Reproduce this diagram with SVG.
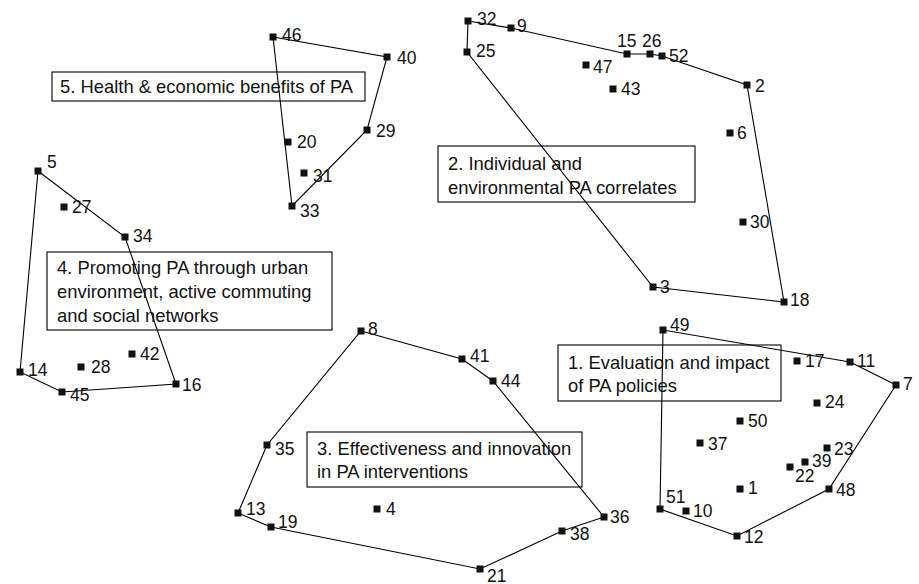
<svg xmlns="http://www.w3.org/2000/svg" width="919" height="584" viewBox="0 0 919 584">
<defs>
<style>
.hull{fill:none;stroke:#000;stroke-width:1.1}
.box{fill:none;stroke:#000;stroke-width:1.1}
.pt{fill:#111}
.lbl{font-family:"Liberation Sans",Arial,sans-serif;font-size:17.5px;fill:#111}
.btx{font-family:"Liberation Sans",Arial,sans-serif;font-size:18.4px;fill:#111}
</style>
<rect id="sq" x="-3.5" y="-3.5" width="7" height="7"/>
</defs>
<rect width="919" height="584" fill="#fff"/>
<g id="connectors">
<polygon class="hull" points="273,37 387,57 367,130 292,206"/>
<polygon class="hull" points="468,21 511,28 627,54 650,54 662,56 747,85 784,302 653,287 467,52"/>
<polygon class="hull" points="38,171 125,237 176,384 62,392 20,372"/>
<polygon class="hull" points="361,331 462,359 493,381 604,517 562,531 480,569 271,527 238,513 267,445"/>
<polygon class="hull" points="663,330 850,362 896,385 829,489 737,536 660,509"/>
</g>
<g id="cluster5">
<rect class="box" x="52" y="72" width="313" height="29"/>
<text class="btx" x="60" y="93">5. Health &amp; economic benefits of PA</text>
</g>
<g id="cluster2">
<rect class="box" x="438" y="146" width="257" height="56"/>
<text class="btx" x="448" y="170">2. Individual and</text>
<text class="btx" x="448" y="194">environmental PA correlates</text>
</g>
<g id="cluster4">
<rect class="box" x="47" y="252" width="285" height="78"/>
<text class="btx" x="57" y="274">4. Promoting PA through urban</text>
<text class="btx" x="57" y="298">environment, active commuting</text>
<text class="btx" x="57" y="322">and social networks</text>
</g>
<g id="cluster3">
<rect class="box" x="307" y="432" width="275" height="55"/>
<text class="btx" x="317" y="455">3. Effectiveness and innovation</text>
<text class="btx" x="317" y="478">in PA interventions</text>
</g>
<g id="cluster1">
<rect class="box" x="558" y="345" width="223" height="56"/>
<text class="btx" x="568" y="369">1. Evaluation and impact</text>
<text class="btx" x="568" y="392">of PA policies</text>
</g>
<g id="points">
<g id="p46"><use href="#sq" class="pt" x="273" y="37"/><text class="lbl" x="282" y="41">46</text></g>
<g id="p40"><use href="#sq" class="pt" x="387" y="57"/><text class="lbl" x="397" y="64">40</text></g>
<g id="p29"><use href="#sq" class="pt" x="367" y="130"/><text class="lbl" x="376" y="137">29</text></g>
<g id="p20"><use href="#sq" class="pt" x="288" y="142"/><text class="lbl" x="297" y="148">20</text></g>
<g id="p31"><use href="#sq" class="pt" x="304" y="173"/><text class="lbl" x="313" y="182">31</text></g>
<g id="p33"><use href="#sq" class="pt" x="292" y="206"/><text class="lbl" x="300" y="217">33</text></g>
<g id="p32"><use href="#sq" class="pt" x="468" y="21"/><text class="lbl" x="477" y="25">32</text></g>
<g id="p9"><use href="#sq" class="pt" x="511" y="28"/><text class="lbl" x="517" y="32">9</text></g>
<g id="p25"><use href="#sq" class="pt" x="467" y="52"/><text class="lbl" x="476" y="57">25</text></g>
<g id="p15"><use href="#sq" class="pt" x="627" y="54"/><text class="lbl" x="617" y="47">15</text></g>
<g id="p26"><use href="#sq" class="pt" x="650" y="54"/><text class="lbl" x="642" y="47">26</text></g>
<g id="p52"><use href="#sq" class="pt" x="662" y="56"/><text class="lbl" x="669" y="62">52</text></g>
<g id="p47"><use href="#sq" class="pt" x="586" y="65"/><text class="lbl" x="593" y="73">47</text></g>
<g id="p43"><use href="#sq" class="pt" x="613" y="89"/><text class="lbl" x="621" y="95">43</text></g>
<g id="p2"><use href="#sq" class="pt" x="747" y="85"/><text class="lbl" x="755" y="92">2</text></g>
<g id="p6"><use href="#sq" class="pt" x="730" y="133"/><text class="lbl" x="737" y="139">6</text></g>
<g id="p30"><use href="#sq" class="pt" x="743" y="222"/><text class="lbl" x="750" y="228">30</text></g>
<g id="p3"><use href="#sq" class="pt" x="653" y="287"/><text class="lbl" x="660" y="293">3</text></g>
<g id="p18"><use href="#sq" class="pt" x="784" y="302"/><text class="lbl" x="790" y="306">18</text></g>
<g id="p5"><use href="#sq" class="pt" x="38" y="171"/><text class="lbl" x="47" y="168">5</text></g>
<g id="p27"><use href="#sq" class="pt" x="64" y="207"/><text class="lbl" x="72" y="213">27</text></g>
<g id="p34"><use href="#sq" class="pt" x="125" y="237"/><text class="lbl" x="133" y="242">34</text></g>
<g id="p42"><use href="#sq" class="pt" x="132" y="354"/><text class="lbl" x="140" y="360">42</text></g>
<g id="p14"><use href="#sq" class="pt" x="20" y="372"/><text class="lbl" x="28" y="376">14</text></g>
<g id="p28"><use href="#sq" class="pt" x="81" y="367"/><text class="lbl" x="91" y="373">28</text></g>
<g id="p45"><use href="#sq" class="pt" x="62" y="392"/><text class="lbl" x="70" y="401">45</text></g>
<g id="p16"><use href="#sq" class="pt" x="176" y="384"/><text class="lbl" x="182" y="391">16</text></g>
<g id="p8"><use href="#sq" class="pt" x="361" y="331"/><text class="lbl" x="368" y="335">8</text></g>
<g id="p41"><use href="#sq" class="pt" x="462" y="359"/><text class="lbl" x="470" y="362">41</text></g>
<g id="p44"><use href="#sq" class="pt" x="493" y="381"/><text class="lbl" x="501" y="387">44</text></g>
<g id="p35"><use href="#sq" class="pt" x="267" y="445"/><text class="lbl" x="275" y="455">35</text></g>
<g id="p13"><use href="#sq" class="pt" x="238" y="513"/><text class="lbl" x="246" y="515">13</text></g>
<g id="p19"><use href="#sq" class="pt" x="271" y="527"/><text class="lbl" x="278" y="528">19</text></g>
<g id="p4"><use href="#sq" class="pt" x="377" y="509"/><text class="lbl" x="386" y="515">4</text></g>
<g id="p21"><use href="#sq" class="pt" x="480" y="569"/><text class="lbl" x="487" y="582">21</text></g>
<g id="p38"><use href="#sq" class="pt" x="562" y="531"/><text class="lbl" x="570" y="540">38</text></g>
<g id="p36"><use href="#sq" class="pt" x="604" y="517"/><text class="lbl" x="610" y="523">36</text></g>
<g id="p49"><use href="#sq" class="pt" x="663" y="330"/><text class="lbl" x="670" y="331">49</text></g>
<g id="p17"><use href="#sq" class="pt" x="797" y="361"/><text class="lbl" x="805" y="367">17</text></g>
<g id="p11"><use href="#sq" class="pt" x="850" y="362"/><text class="lbl" x="857" y="367">11</text></g>
<g id="p7"><use href="#sq" class="pt" x="896" y="385"/><text class="lbl" x="903" y="390">7</text></g>
<g id="p24"><use href="#sq" class="pt" x="817" y="403"/><text class="lbl" x="825" y="408">24</text></g>
<g id="p50"><use href="#sq" class="pt" x="740" y="421"/><text class="lbl" x="748" y="427">50</text></g>
<g id="p37"><use href="#sq" class="pt" x="700" y="443"/><text class="lbl" x="708" y="450">37</text></g>
<g id="p23"><use href="#sq" class="pt" x="827" y="448"/><text class="lbl" x="834" y="455">23</text></g>
<g id="p39"><use href="#sq" class="pt" x="805" y="462"/><text class="lbl" x="812" y="467">39</text></g>
<g id="p22"><use href="#sq" class="pt" x="790" y="467"/><text class="lbl" x="795" y="482">22</text></g>
<g id="p1"><use href="#sq" class="pt" x="740" y="489"/><text class="lbl" x="748" y="494">1</text></g>
<g id="p48"><use href="#sq" class="pt" x="829" y="489"/><text class="lbl" x="836" y="496">48</text></g>
<g id="p51"><use href="#sq" class="pt" x="660" y="509"/><text class="lbl" x="666" y="503">51</text></g>
<g id="p10"><use href="#sq" class="pt" x="686" y="511"/><text class="lbl" x="693" y="517">10</text></g>
<g id="p12"><use href="#sq" class="pt" x="737" y="536"/><text class="lbl" x="744" y="543">12</text></g>
</g>
</svg>
